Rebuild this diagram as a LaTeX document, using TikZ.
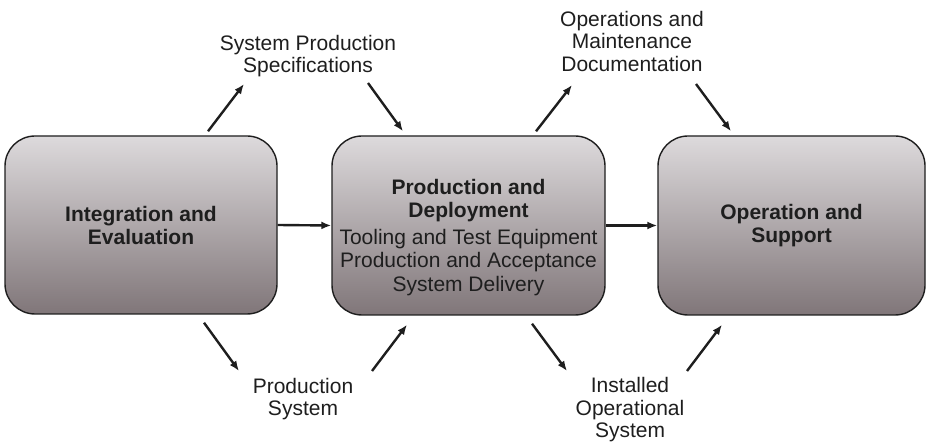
\documentclass[tikz,border=0pt]{standalone}
\usepackage{fontspec}
\setmainfont{Liberation Sans}
\usetikzlibrary{arrows.meta,positioning}
\definecolor{boxtop}{RGB}{221,218,220}
\definecolor{boxbot}{RGB}{128,118,121}
\definecolor{ink}{RGB}{30,30,30}
\tikzset{
  box/.style={draw=ink, line width=1.4pt, rounded corners=30pt, top color=boxtop, bottom color=boxbot, align=center, inner sep=0pt, font=\fontsize{21}{23}\selectfont\bfseries, text=ink},
  boxtxt/.style={align=center, inner sep=0pt, font=\fontsize{21}{23.5}\selectfont, text=ink},
  lbl/.style={align=center, inner sep=0pt, font=\fontsize{21}{22.5}\selectfont, text=ink},
  arr/.style={-{Latex[length=10pt,width=8pt]}, line width=2.4pt, draw=ink},
}
\begin{document}
\begin{tikzpicture}[x=1pt,y=1pt]
\useasboundingbox (0,0) rectangle (928,447);
\node[box, minimum width=272pt, minimum height=178pt] (ie) at (141,222) {Integration and\\Evaluation};
\node[box, minimum width=273pt, minimum height=179pt] (pd) at (468.5,221.5) {};
\node[boxtxt] (pdtxt) at ([yshift=-12pt]pd.center) {\textbf{Production and}\\\textbf{Deployment}\\[3pt]Tooling and Test Equipment\\Production and Acceptance\\System Delivery};
\node[box, minimum width=267pt, minimum height=179pt] (os) at (791.5,221.5) {Operation and\\Support};
% outputs and inputs
\node[lbl] (spec) at (308,391) {System Production\\Specifications};
\node[lbl] (ops) at (632,406) {Operations and\\Maintenance\\Documentation};
\node[lbl] (prod) at (303,48) {Production\\System};
\node[lbl] (inst) at (630,37) {Installed\\Operational\\System};
\draw[arr] (ie.east) -- (pd.west);
\draw[arr] (pd.east) -- (os.west);
\draw[arr] ([shift={(67,4)}]ie.north) -- ([shift={(-64,-28)}]spec.center);
\draw[arr] ([shift={(60,-27)}]spec.center) -- ([shift={(-65.5,4)}]pd.north);
\draw[arr] ([shift={(67.5,4)}]pd.north) -- ([shift={(-60,-44)}]ops.center);
\draw[arr] ([shift={(64,-43)}]ops.center) -- ([shift={(-60.5,4)}]os.north);
\draw[arr] ([shift={(63,-8)}]ie.south) -- ([shift={(-64,28)}]prod.center);
\draw[arr] ([shift={(69,28)}]prod.center) -- ([shift={(-61.5,-9)}]pd.south);
\draw[arr] ([shift={(63.5,-8)}]pd.south) -- ([shift={(-63,39)}]inst.center);
\draw[arr] ([shift={(57,39)}]inst.center) -- ([shift={(-69.5,-9)}]os.south);
\end{tikzpicture}
\end{document}
